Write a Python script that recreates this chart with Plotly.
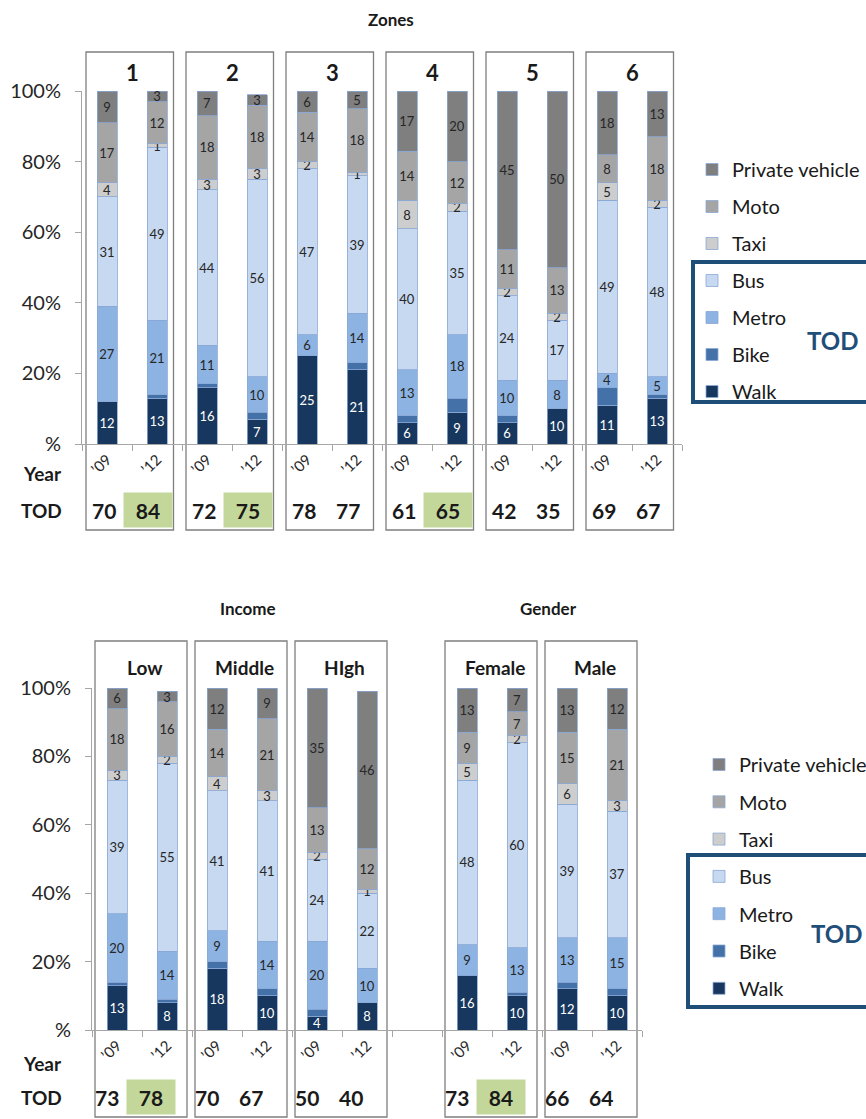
import plotly.graph_objects as go

# ---------------- data ----------------
modes = ["Walk", "Bike", "Metro", "Bus", "Taxi", "Moto", "Private vehicle"]
mode_colors = ["#17375e", "#4471a8", "#8db3e2", "#c6d9f0", "#cdcdcd", "#a5a5a5", "#7f7f7f"]
mode_labelled = [True, False, True, True, True, True, True]
years = ["’09", "’12"]

zone_groups = ["1", "2", "3", "4", "5", "6"]
zones_walk = [12, 13, 16, 7, 25, 21, 6, 9, 6, 10, 11, 13]
zones_bike = [0, 1, 1, 2, 0, 2, 2, 4, 2, 0, 5, 1]
zones_metro = [27, 21, 11, 10, 6, 14, 13, 18, 10, 8, 4, 5]
zones_bus = [31, 49, 44, 56, 47, 39, 40, 35, 24, 17, 49, 48]
zones_taxi = [4, 1, 3, 3, 2, 1, 8, 2, 2, 2, 5, 2]
zones_moto = [17, 12, 18, 18, 14, 18, 14, 12, 11, 13, 8, 18]
zones_private = [9, 3, 7, 3, 6, 5, 17, 20, 45, 50, 18, 13]
zones_tod = [70, 84, 72, 75, 78, 77, 61, 65, 42, 35, 69, 67]
zones_tod_up = [False, True, False, True, False, False, False, True, False, False, False, False]

demo_groups = ["Low", "Middle", "HIgh", "Female", "Male"]
demo_sections = ["Income", "Income", "Income", "Gender", "Gender"]
demo_walk = [13, 8, 18, 10, 4, 8, 16, 10, 12, 10]
demo_bike = [1, 1, 2, 2, 2, 0, 0, 1, 2, 2]
demo_metro = [20, 14, 9, 14, 20, 10, 9, 13, 13, 15]
demo_bus = [39, 55, 41, 41, 24, 22, 48, 60, 39, 37]
demo_taxi = [3, 2, 4, 3, 2, 1, 5, 2, 6, 3]
demo_moto = [18, 16, 14, 21, 13, 12, 9, 7, 15, 21]
demo_private = [6, 3, 12, 9, 35, 46, 13, 7, 13, 12]
demo_tod = [73, 78, 70, 67, 50, 40, 73, 84, 66, 64]
demo_tod_up = [False, True, False, False, False, False, False, True, False, False]

y_tickvals = [0, 20, 40, 60, 80, 100]
y_ticktext = ["%", "20%", "40%", "60%", "80%", "100%"]

zones_series = [zones_walk, zones_bike, zones_metro, zones_bus, zones_taxi, zones_moto, zones_private]
demo_series = [demo_walk, demo_bike, demo_metro, demo_bus, demo_taxi, demo_moto, demo_private]

# ---------------- geometry helpers ----------------
W, H = 866, 1119
FONT = "Lato, 'Open Sans', sans-serif"


def px(x):
    return x / W


def py(y):
    return 1 - y / H


# bar positions
zone_pos = [2 * g + j for g in range(len(zone_groups)) for j in range(2)]
demo_start = []
slot = 0
for g in range(len(demo_groups)):
    if g > 0 and demo_sections[g] != demo_sections[g - 1]:
        slot += 1
    demo_start.append(slot)
    slot += 2
demo_pos = [s + j for s in demo_start for j in range(2)]
demo_nslots = slot

fig = go.Figure()

for i, m in enumerate(modes):
    txtcol = "white" if m == "Walk" else "#262626"
    common = dict(
        name=m,
        marker=dict(color=mode_colors[i], line=dict(color="#8aa8d4", width=0.8)),
        textposition="inside",
        insidetextanchor="middle",
        textangle=0,
        textfont=dict(family=FONT, size=13, color=txtcol),
        hoverinfo="skip",
        legendgroup=m,
        legendrank=len(modes) - i,
    )
    fig.add_trace(go.Bar(
        x=zone_pos, y=zones_series[i],
        text=[str(v) for v in zones_series[i]] if mode_labelled[i] else None,
        xaxis="x", yaxis="y", legend="legend", **common))
    fig.add_trace(go.Bar(
        x=demo_pos, y=demo_series[i],
        text=[str(v) for v in demo_series[i]] if mode_labelled[i] else None,
        xaxis="x2", yaxis="y2", legend="legend2", **common))

axis_col = "#a6a6a6"
xcommon = dict(
    showgrid=False, zeroline=False, showline=True, linecolor=axis_col, linewidth=1,
    automargin=False,
    ticks="", tickangle=-45, tickfont=dict(family=FONT, size=15, color="#262626"),
    minor=dict(tickmode="linear", tick0=-0.5, dtick=1, ticks="outside", ticklen=6,
               tickcolor=axis_col, showgrid=False),
)
ycommon = dict(
    range=[0, 100], tickvals=y_tickvals, ticktext=y_ticktext, showgrid=False,
    automargin=False, ticklabelstandoff=10,
    zeroline=False, showline=True, linecolor=axis_col, ticks="outside", ticklen=6,
    tickcolor=axis_col, tickfont=dict(family=FONT, size=20, color="#262626"),
)

annotations = []
shapes = []


def note(text, x, y, xref="paper", size=19, color="#1a1a1a", xanchor="center", **kw):
    d = dict(text=text, x=x, y=y, xref=xref, yref="paper", xanchor=xanchor, yanchor="middle",
             showarrow=False, font=dict(family=FONT, size=size, color=color))
    d.update(kw)
    annotations.append(d)


# ---------- top chart ----------
note("<b>Zones</b>", px(391), py(20), size=17)
for g, name in enumerate(zone_groups):
    note(f"<b>{name}</b>", 2 * g + 0.5, py(73), xref="x", size=22)
    shapes.append(dict(type="rect", xref="x", yref="paper", x0=2 * g - 0.42, x1=2 * g + 1.33,
                       y0=py(530), y1=py(52), line=dict(color="#7f7f7f", width=1.3), layer="below"))
for k, v in enumerate(zones_tod):
    extra = dict(bgcolor="#c4d79b", width=46, height=32) if zones_tod_up[k] else {}
    note(f"<b>{v}</b>", zone_pos[k], py(510), xref="x", size=21,
         xshift=-3 if k % 2 == 0 else -9, **extra)

# ---------- bottom chart ----------
for sec in ["Income", "Gender"]:
    idx = [g for g in range(len(demo_groups)) if demo_sections[g] == sec]
    cx = (demo_start[idx[0]] + demo_start[idx[-1]] + 1) / 2
    note(f"<b>{sec}</b>", cx, py(608), xref="x2", size=17, xshift=6)
for g, name in enumerate(demo_groups):
    s = demo_start[g]
    note(f"<b>{name}</b>", s + 0.55, py(667), xref="x2", size=19)
    shapes.append(dict(type="rect", xref="x2", yref="paper", x0=s - 0.44, x1=s + 1.4,
                       y0=py(1117), y1=py(641), line=dict(color="#7f7f7f", width=1.3), layer="below"))
for k, v in enumerate(demo_tod):
    extra = dict(bgcolor="#c4d79b", width=46, height=32) if demo_tod_up[k] else {}
    note(f"<b>{v}</b>", demo_pos[k], py(1097), xref="x2", size=21,
         xshift=-10 if k % 2 == 0 else -16, **extra)

# row labels
for yy in [(473, 510), (1063, 1097)]:
    note("<b>Year</b>", px(64), py(yy[0]), xanchor="right")
    note("<b>TOD</b>", px(64), py(yy[1]), xanchor="right")

# legend TOD boxes
for (x0, y0, y1, tx, ty) in [(693, 262, 402, 832, 340), (688, 855, 1007, 836, 933)]:
    shapes.append(dict(type="rect", xref="paper", yref="paper", x0=px(x0), x1=px(900),
                       y0=py(y1), y1=py(y0), line=dict(color="#1f4e79", width=4)))
    note("<b>TOD</b>", px(tx), py(ty), size=24, color="#1f4e79")

legend_common = dict(
    traceorder="grouped", font=dict(family=FONT, size=20, color="#1a1a1a"),
    bgcolor="rgba(0,0,0,0)", xanchor="left", yanchor="top",
    itemclick=False, itemdoubleclick=False,
)

fig.update_layout(
    width=W, height=H, margin=dict(l=0, r=0, t=0, b=0, autoexpand=False),
    paper_bgcolor="white", plot_bgcolor="white",
    barmode="stack", bargap=0.6,
    uniformtext=dict(minsize=13, mode="show"),
    font=dict(family=FONT, color="#1a1a1a"),
    xaxis=dict(domain=[px(82), px(682)], range=[-0.5, 11.5], tickvals=zone_pos,
               ticktext=years * len(zone_groups), anchor="y", **xcommon),
    yaxis=dict(domain=[py(444), py(91)], anchor="x", **ycommon),
    xaxis2=dict(domain=[px(92), px(642)], range=[-0.5, demo_nslots - 0.5], tickvals=demo_pos,
                ticktext=years * len(demo_groups), anchor="y2", **xcommon),
    yaxis2=dict(domain=[py(1030), py(688)], anchor="x2", **ycommon),
    legend=dict(x=px(692), y=py(150), tracegroupgap=8, **legend_common),
    legend2=dict(x=px(699), y=py(745), tracegroupgap=8.3, **legend_common),
    annotations=annotations,
    shapes=shapes,
    showlegend=True,
)

fig.write_html("out.html")
